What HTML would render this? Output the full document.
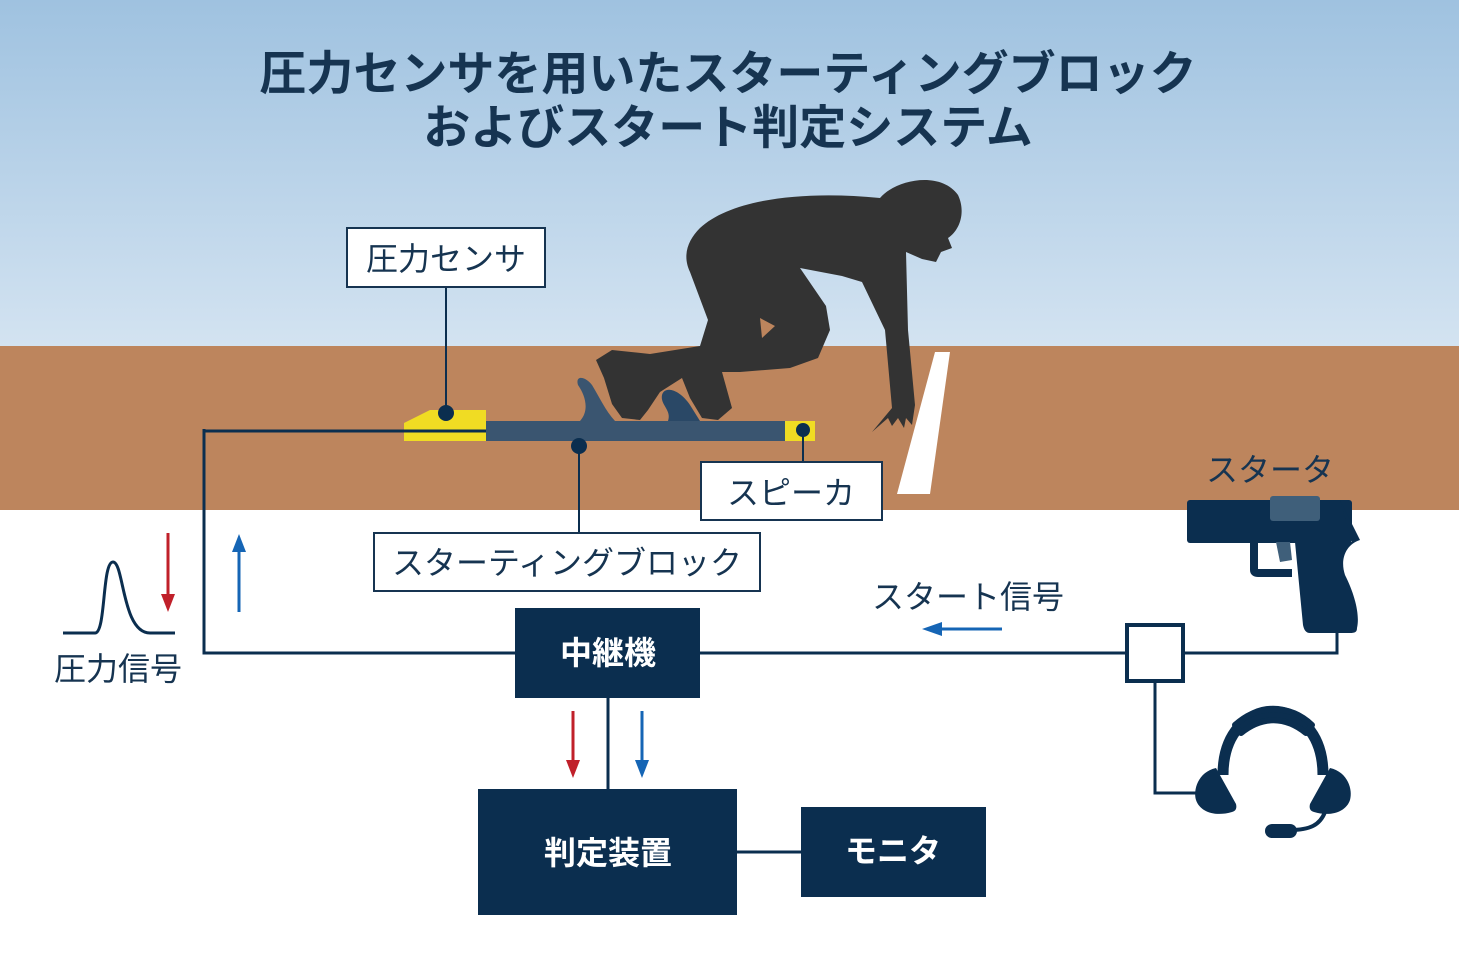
<!DOCTYPE html>
<html><head><meta charset="utf-8"><style>
html,body{margin:0;padding:0;background:#fff}
svg{display:block}
text{font-family:"Liberation Sans","Noto Sans CJK JP",sans-serif}
</style></head><body>
<svg width="1459" height="959" viewBox="0 0 1459 959" xmlns="http://www.w3.org/2000/svg">
<defs>
<linearGradient id="sky" x1="0" y1="0" x2="0" y2="1">
<stop offset="0" stop-color="#9fc2e0"/><stop offset="1" stop-color="#d3e3f1"/>
</linearGradient>
</defs>
<rect x="0" y="0" width="1459" height="346" fill="url(#sky)"/>
<rect x="0" y="346" width="1459" height="164" fill="#bd855d"/>
<text x="728" y="90" text-anchor="middle" font-size="47" font-weight="bold" fill="#163451">圧力センサを用いたスターティングブロック</text>
<text x="728" y="144" text-anchor="middle" font-size="47" font-weight="bold" fill="#163451">およびスタート判定システム</text>

<!-- starting line -->
<polygon points="935,352 950,352 930,494 897,494" fill="#fff"/>

<!-- block pedals -->
<path d="M580,421 C590,410 585,395 578,385 C575,375 585,376 592,385 C600,398 605,410 615,421 Z" fill="#3a5570"/>
<path d="M668,421 C672,410 660,405 662,395 C665,385 680,390 690,405 L700,421 Z" fill="#2a4866"/>
<!-- runner -->
<path d="M700,228 C730,200 800,190 880,198 C895,180 940,170 958,195 C966,212 960,230 948,238 L952,248 L941,252 L936,262 L922,259 L906,252 L908,330 L915,405 L912,425 L906,418 L904,428 L898,418 L892,426 L888,418 L872,432 L892,408 L885,330 L862,282 L842,276 L800,268 L826,306 L830,330 L818,358 L790,368 L740,372 L722,372 L732,408 L718,420 L702,418 L690,398 L682,378 L660,392 L648,410 L640,420 L622,418 L612,404 L604,378 L596,360 L612,350 L650,354 L700,346 L708,320 L690,272 C682,255 688,240 700,228 Z" fill="#333"/>
<path d="M760,318 L775,326 L762,338 Z" fill="#bd855d"/>

<!-- block bar -->
<rect x="486" y="421" width="300" height="20" fill="#3a5570"/>
<polygon points="404,423 430,410 486,410 486,441 404,441" fill="#f0dc23"/>
<rect x="785" y="421" width="30" height="20" fill="#f0dc23"/>
<line x1="204" y1="431" x2="486" y2="431" stroke="#0b2e4f" stroke-width="3"/>

<!-- connector lines -->
<g stroke="#0b2e4f" stroke-width="2" fill="none">
<line x1="446" y1="287" x2="446" y2="413"/>
<line x1="803" y1="430" x2="803" y2="462"/>
<line x1="579" y1="446" x2="579" y2="533"/>
</g>
<g fill="#0b2e4f">
<circle cx="446" cy="413" r="8"/><circle cx="803" cy="430" r="7"/><circle cx="579" cy="446" r="8"/>
</g>

<!-- label boxes -->
<g fill="#fff" stroke="#163451" stroke-width="2">
<rect x="347" y="228" width="198" height="59"/>
<rect x="701" y="462" width="181" height="58"/>
<rect x="374" y="533" width="386" height="58"/>
</g>
<g font-size="32" fill="#163451" text-anchor="middle">
<text x="446" y="270">圧力センサ</text>
<text x="791" y="504">スピーカ</text>
<text x="567" y="574">スターティングブロック</text>
<text x="118" y="680">圧力信号</text>
<text x="968" y="608">スタート信号</text>
<text x="1270" y="481">スタータ</text>
</g>

<!-- wires -->
<g stroke="#0b2e4f" stroke-width="3" fill="none">
<polyline points="204,429 204,653 515,653"/>
<line x1="700" y1="653" x2="1127" y2="653"/>
<polyline points="1183,653 1337,653 1337,630"/>
<polyline points="1155,681 1155,793 1205,793"/>
<line x1="608" y1="698" x2="608" y2="789"/>
<line x1="737" y1="852" x2="801" y2="852"/>
<path d="M63,633 L95,633 C106,633 102,562 113,562 C124,562 122,633 150,633 L175,633"/>
</g>
<rect x="1127" y="625" width="56" height="56" fill="#fff" stroke="#0b2e4f" stroke-width="4"/>

<!-- arrows -->
<g stroke-width="3">
<line x1="168" y1="533" x2="168" y2="596" stroke="#c0202a"/>
<polygon points="161,594 175,594 168,612" fill="#c0202a"/>
<line x1="239" y1="612" x2="239" y2="550" stroke="#1565b5"/>
<polygon points="232,552 246,552 239,534" fill="#1565b5"/>
<line x1="573" y1="711" x2="573" y2="762" stroke="#c0202a"/>
<polygon points="566,760 580,760 573,778" fill="#c0202a"/>
<line x1="642" y1="711" x2="642" y2="762" stroke="#1565b5"/>
<polygon points="635,760 649,760 642,778" fill="#1565b5"/>
<line x1="1002" y1="629" x2="940" y2="629" stroke="#1565b5"/>
<polygon points="942,622 942,636 922,629" fill="#1565b5"/>
</g>

<!-- filled boxes -->
<g fill="#0b2e4f">
<rect x="515" y="608" width="185" height="90"/>
<rect x="478" y="789" width="259" height="126"/>
<rect x="801" y="807" width="185" height="90"/>
</g>
<g fill="#fff" font-size="32" text-anchor="middle" font-weight="bold">
<text x="608" y="664">中継機</text>
<text x="608" y="864">判定装置</text>
<text x="893" y="862">モニタ</text>
</g>

<!-- gun -->
<g fill="#0b2e4f">
<rect x="1187" y="500" width="165" height="43" rx="3"/>
<path d="M1340,500 L1360,540 C1345,545 1340,560 1345,575 C1355,595 1360,615 1357,628 C1357,632 1355,633 1350,633 L1310,633 C1306,633 1304,630 1303,625 L1295,542 L1352,542 Z"/>
<path d="M1250,542 L1250,570 C1250,575 1254,577 1258,577 L1292,577 L1292,569 L1258,569 L1258,542 Z"/>
</g>
<rect x="1270" y="496" width="50" height="25" rx="3" fill="#3f5f7a"/>
<path d="M1276,542 L1290,542 L1292,560 L1280,562 Z" fill="#3f5f7a"/>

<!-- headset -->
<path d="M1223,775 C1223,690 1323,690 1323,775" fill="none" stroke="#0b2e4f" stroke-width="11"/>
<path d="M1235,725 C1258,704 1290,704 1312,725 L1306,733 C1285,716 1262,716 1241,733 Z" fill="#0b2e4f" stroke="#0b2e4f" stroke-width="6" stroke-linejoin="round"/>
<path d="M1216,768 C1198,772 1193,790 1196,800 C1200,812 1215,817 1232,812 C1236,811 1237,808 1236,804 Z" fill="#0b2e4f"/>
<path d="M1330,768 C1348,772 1353,790 1350,800 C1346,812 1331,817 1314,812 C1310,811 1309,808 1310,804 Z" fill="#0b2e4f"/>
<path d="M1325,812 C1320,825 1310,830 1290,830" fill="none" stroke="#0b2e4f" stroke-width="4"/>
<rect x="1265" y="824" width="32" height="14" rx="7" fill="#0b2e4f"/>
</svg>
</body></html>
